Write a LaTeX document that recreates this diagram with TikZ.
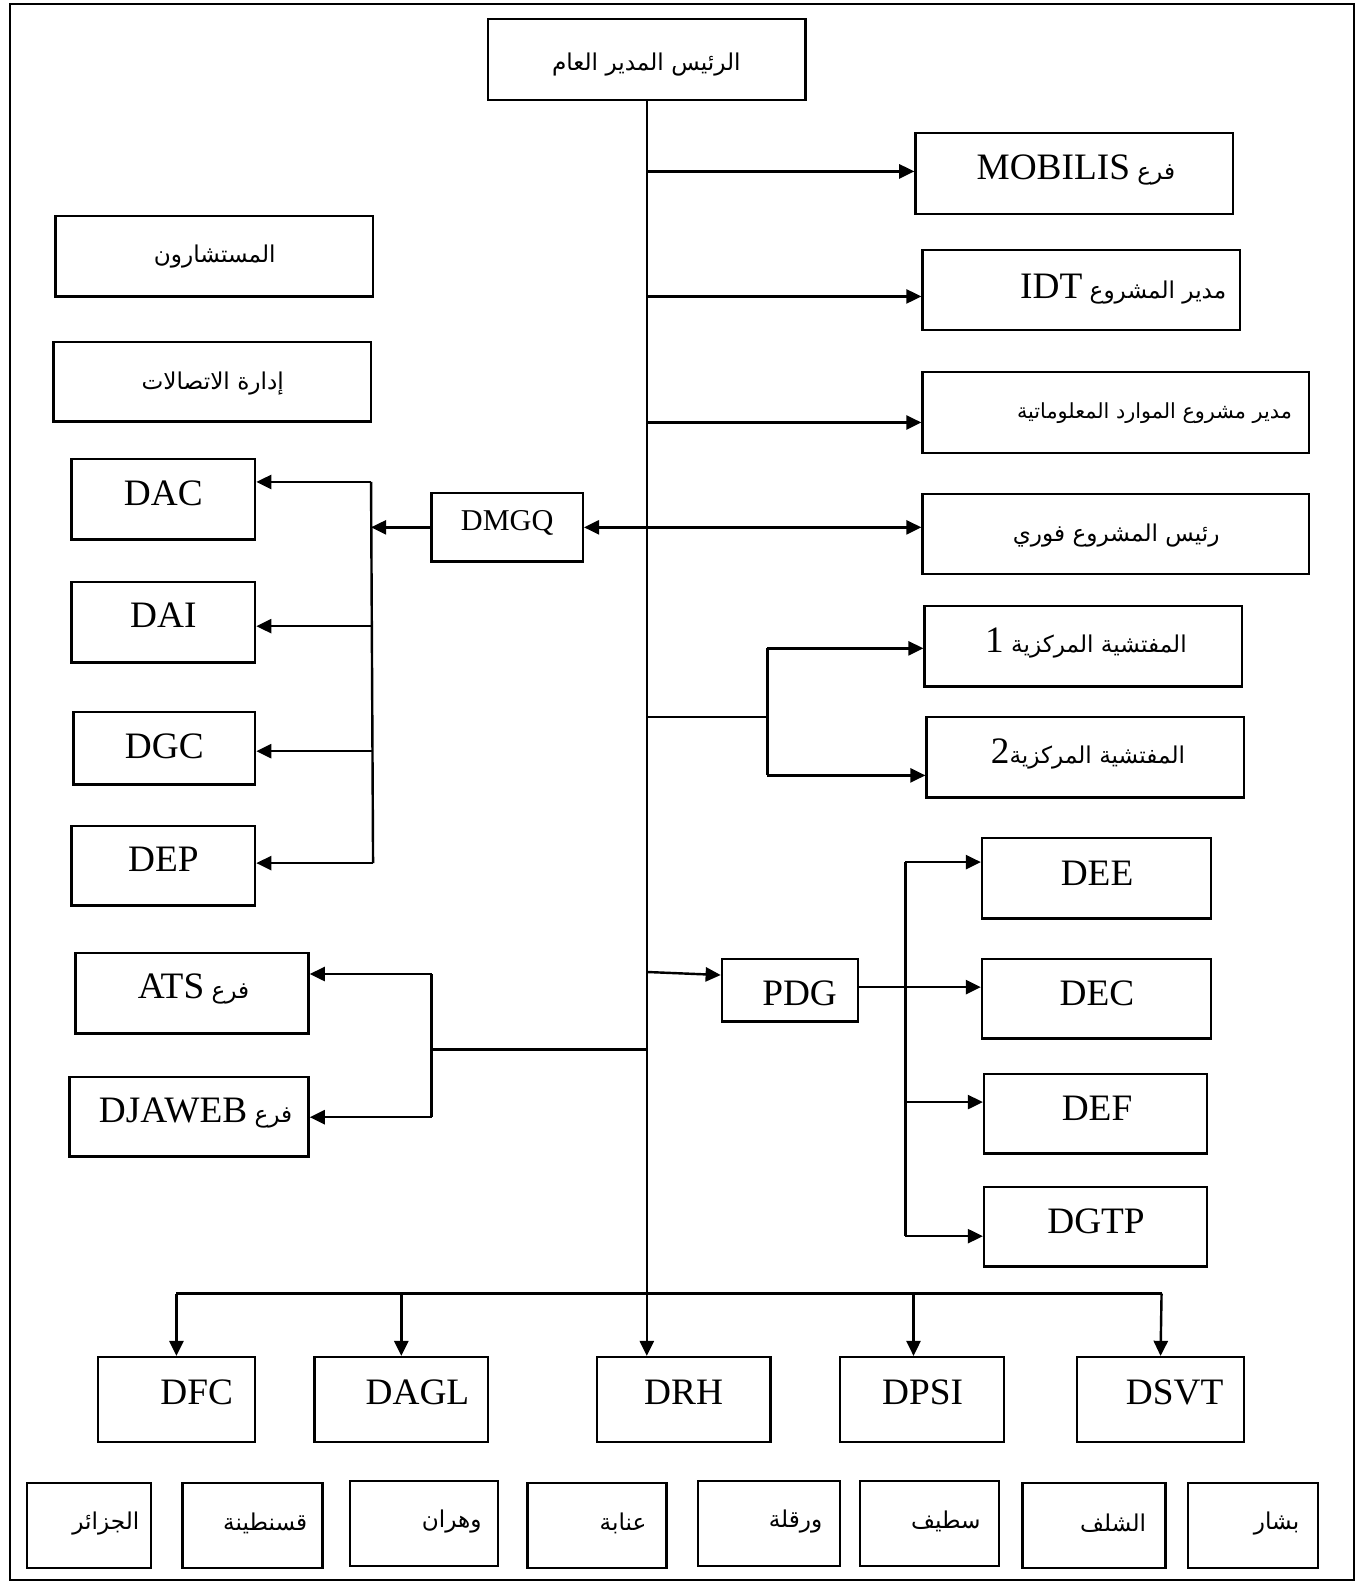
\documentclass[tikz,border=0pt]{standalone}
\usepackage{fontspec}
\setmainfont{Liberation Serif}
\newfontfamily\arabicfont[Script=Arabic]{DejaVu Sans}
\TeXXeTstate=1
\usetikzlibrary{arrows.meta}

% Arabic run (right to left) and embedded Latin run
\newcommand\ar[1]{{\fontsize{11.5}{14}\selectfont\arabicfont\beginR #1\endR}}
\newcommand\lat[1]{{\fontsize{18.5}{22}\selectfont\rmfamily\beginL #1\endL}}

\tikzset{
  box/.style={draw, line width=1.2pt, inner sep=0pt},
  txt/.style={inner sep=0pt, font=\fontsize{18.5}{22}\selectfont},
  conn/.style={line width=1.2pt},
  tip/.tip={Triangle[length=7.5pt,width=7pt]},
  arr/.style={conn, -tip},
  arrs/.style={conn, tip-tip},
}

% \orgbox{name}{x1}{y1}{x2}{y2}{text x}{text y}{text}
\newcommand\orgbox[8]{%
  \node[box, minimum width={(#4-#2)*0.5pt}, minimum height={(#5-#3)*0.5pt}] (#1) at ({(#2+#4)/2},{(#3+#5)/2}) {};
  \node[txt] (#1-t) at (#6,#7) {#8};
}

\begin{document}
\begin{tikzpicture}[x=0.5pt, y=-0.5pt]
\useasboundingbox (0,0) rectangle (1352,1568);
\draw[line width=0.9pt] (10,4) rectangle (1343,1567);

% head
\orgbox{gm}{484}{19}{799}{99}{641}{64}{\ar{الرئيس المدير العام}}

% right column
\orgbox{mob}{908}{132}{1223}{212}{1067}{169}{\ar{فرع \lat{MOBILIS}}}
\orgbox{idt}{915}{248}{1230}{327}{1114}{287}{\ar{مدير المشروع \lat{IDT}}}
\orgbox{erp}{915}{369}{1298}{449}{1145}{410}{{\fontsize{10.3}{12}\selectfont\ar{\fontsize{10.3}{12}\selectfont مدير مشروع الموارد المعلوماتية}}}
\orgbox{fawri}{915}{490}{1298}{569}{1107}{531}{\ar{رئيس المشروع فوري}}
\orgbox{insA}{917}{601}{1232}{681}{1077}{638}{\ar{المفتشية المركزية \lat{1}}}
\orgbox{insB}{919}{711}{1234}{791}{1079}{748}{\ar{المفتشية المركزية\lat{2}}}

% left column
\orgbox{cons}{55}{214}{370}{294}{213}{254}{\ar{المستشارون}}
\orgbox{comm}{53}{339}{368}{418}{211}{380}{\ar{إدارة الاتصالات}}
\orgbox{dac}{71}{455}{253}{535}{162}{489}{DAC}
\orgbox{dai}{71}{577}{253}{657}{162}{610}{DAI}
\orgbox{dgc}{73}{706}{253}{778}{163}{740}{DGC}
\orgbox{dep}{71}{819}{253}{898}{162}{852}{DEP}
\orgbox{dmgq}{428}{489}{578}{557}{503}{519}{\fontsize{15}{18}\selectfont DMGQ}
\orgbox{ats}{75}{945}{306}{1025}{192}{981}{\ar{فرع \lat{ATS}}}
\orgbox{djaweb}{69}{1068}{306}{1147}{194}{1104}{\ar{فرع \lat{DJAWEB}}}

% PDG group
\orgbox{pdg}{716}{951}{851}{1013}{793}{985}{PDG}
\orgbox{dee}{974}{831}{1201}{911}{1088}{866}{DEE}
\orgbox{dec}{974}{951}{1201}{1030}{1088}{985}{DEC}
\orgbox{def}{976}{1065}{1197}{1144}{1088}{1099}{DEF}
\orgbox{dgtp}{976}{1177}{1197}{1256}{1087}{1211}{DGTP}

% central directorates
\orgbox{dfc}{97}{1346}{253}{1430}{195}{1381}{DFC}
\orgbox{dagl}{312}{1346}{484}{1430}{414}{1381}{DAGL}
\orgbox{drh}{592}{1346}{764}{1430}{678}{1381}{DRH}
\orgbox{dpsi}{833}{1346}{996}{1430}{915}{1381}{DPSI}
\orgbox{dsvt}{1068}{1346}{1234}{1430}{1165}{1381}{DSVT}

% regional directorates
\orgbox{alg}{27}{1471}{150}{1555}{105}{1511}{\ar{الجزائر}}
\orgbox{cst}{181}{1471}{320}{1555}{263}{1511}{\ar{قسنطينة}}
\orgbox{orn}{347}{1469}{494}{1553}{448}{1509}{\ar{وهران}}
\orgbox{ann}{523}{1471}{661}{1555}{618}{1511}{\ar{عنابة}}
\orgbox{ouar}{692}{1469}{833}{1553}{789}{1509}{\ar{ورقلة}}
\orgbox{stf}{853}{1469}{991}{1553}{938}{1509}{\ar{سطيف}}
\orgbox{chlef}{1014}{1471}{1156}{1555}{1104}{1511}{\ar{الشلف}}
\orgbox{bech}{1178}{1471}{1307}{1555}{1266}{1511}{\ar{بشار}}

% main trunk
\draw[arr] (gm.south) -- (gm.south |- drh.north);

% bottom bus
\coordinate (busL) at (175,1283);
\coordinate (busR) at (1152,1283);
\draw[conn] (busL) -- (busR);
\draw[arr] (busL) -- (dfc.north);
\draw[arr] (dagl.north |- busL) -- (dagl.north);
\draw[arr] ([xshift=-4.25pt]dpsi.north |- busL) -- ([xshift=-4.25pt]dpsi.north);
\draw[arr] (busR) -- (dsvt.north);

% right branches
\coordinate (tMob) at (642,170);
\coordinate (tIdt) at (642,294);
\coordinate (tErp) at (642,419);
\draw[arr] (tMob) -- (tMob -| mob.west);
\draw[arr] (tIdt) -- (tIdt -| idt.west);
\draw[arr] (tErp) -- (tErp -| erp.west);
\draw[arrs] (dmgq.east) -- (dmgq.east -| fawri.west);

% DMGQ branch
\coordinate (lbTop) at (368,478);
\coordinate (lbB) at (369,621);
\coordinate (lbC) at (369,745);
\coordinate (lbBot) at (370,856);
\draw[arr] (dmgq.west) -- (dmgq.west -| lbTop);
\draw[conn] (lbTop) -- (lbBot);
\draw[arr] (lbTop) -- (lbTop -| dac.east);
\draw[arr] (lbB) -- (lbB -| dai.east);
\draw[arr] (lbC) -- (lbC -| dgc.east);
\draw[arr] (lbBot) -- (lbBot -| dep.east);

% inspection branch
\coordinate (tIns) at (642,711);
\coordinate (ibTop) at (761,643);
\coordinate (ibBot) at (761,769);
\draw[conn] (tIns) -- (tIns -| ibTop);
\draw[conn] (ibTop) -- (ibBot);
\draw[arr] (ibTop) -- (ibTop -| insA.west);
\draw[arr] (ibBot) -- (ibBot -| insB.west);

% PDG branch
\coordinate (tPdg) at (642,964);
\draw[arr] (tPdg) -- ([yshift=7.5pt]pdg.west);
\coordinate (pbTop) at (898,855);
\coordinate (pbF) at (898,1093);
\coordinate (pbBot) at (898,1226);
\draw[arr] ([yshift=1.5pt]pdg.east) -- ([yshift=1.5pt]pdg.east -| dec.west);
\draw[conn] (pbTop) -- (pbBot);
\draw[arr] (pbTop) -- (pbTop -| dee.west);
\draw[arr] (pbF) -- (pbF -| def.west);
\draw[arr] (pbBot) -- (pbBot -| dgtp.west);

% ATS / DJAWEB branch
\coordinate (tAts) at (642,1041);
\coordinate (abTop) at (428,966);
\coordinate (abBot) at (428,1108);
\draw[conn] (tAts) -- (tAts -| abTop);
\draw[conn] (abTop) -- (abBot);
\draw[arr] (abTop) -- (abTop -| ats.east);
\draw[arr] (abBot) -- (abBot -| djaweb.east);
\end{tikzpicture}
\end{document}
